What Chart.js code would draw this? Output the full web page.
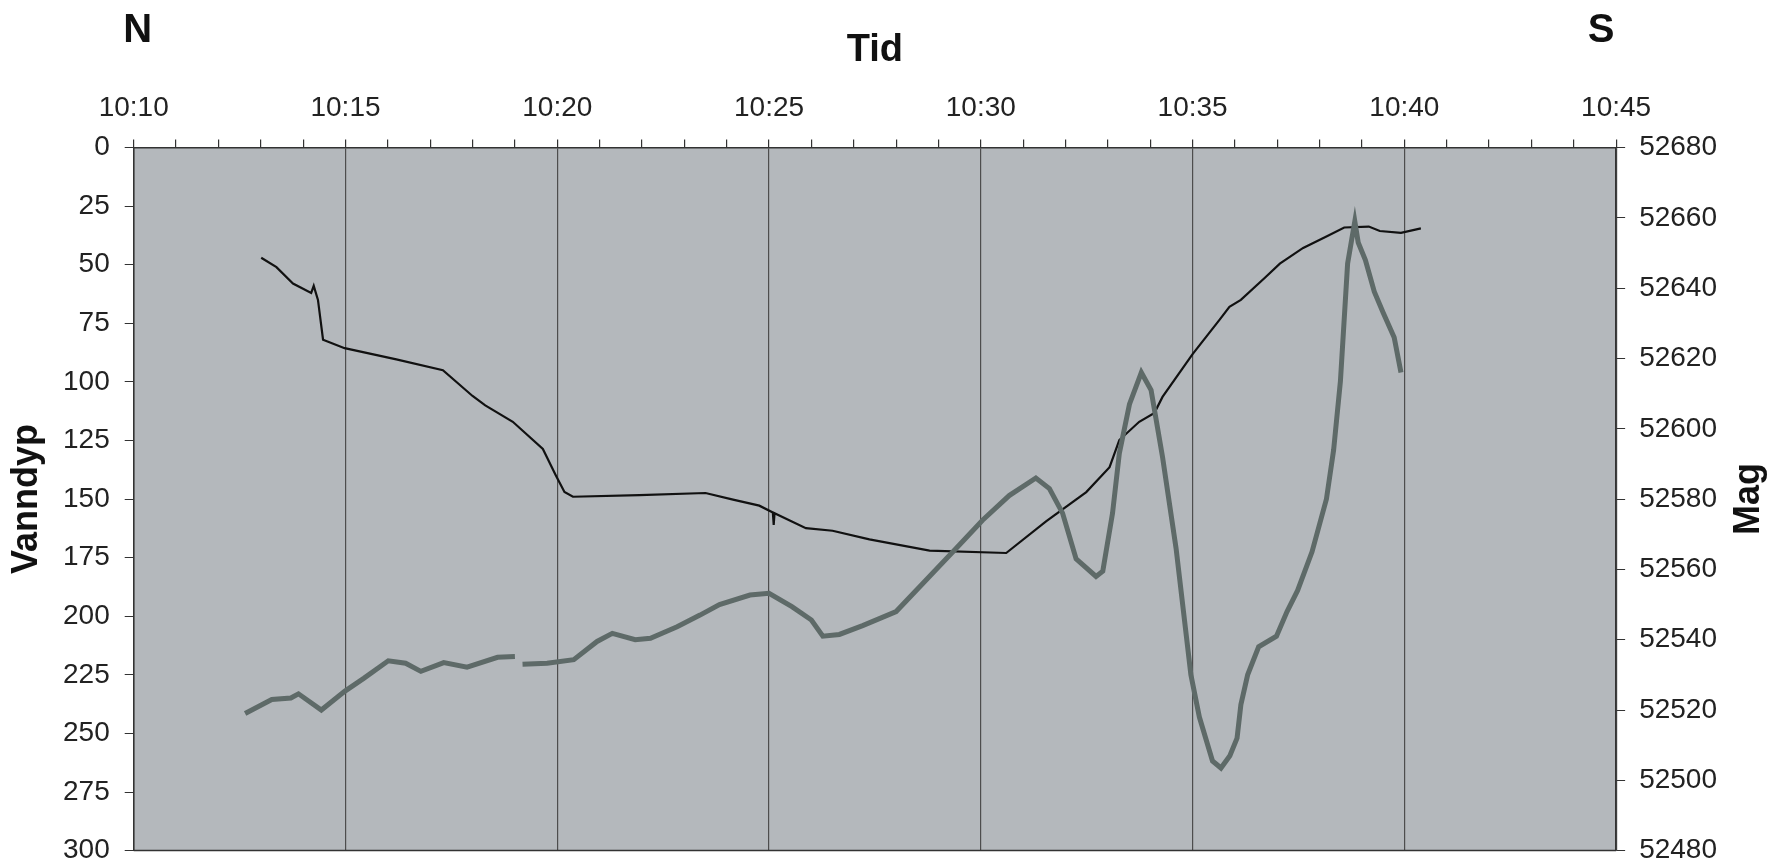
<!DOCTYPE html>
<html>
<head>
<meta charset="utf-8">
<script src="https://cdn.jsdelivr.net/npm/chart.js@4"></script>
<style>
  body { margin: 0; background: #ffffff; }
  #chart { display: block; }
</style>
</head>
<body>
<canvas id="chart" width="1779" height="867"></canvas>
<script>
// VARIABLE DECLARATIONS:
// time is given as minutes past 10:00
var timeTicks = ['10:10', '10:15', '10:20', '10:25', '10:30', '10:35', '10:40', '10:45'];

var depthTime = [13.01, 13.37, 13.76, 14.19, 14.25, 14.35, 14.47, 14.98, 16.2, 17.3,
    18.0, 18.3, 18.95, 19.66, 19.97, 20.17, 20.37, 21.94, 23.5, 24.15,
    24.77, 25.09, 25.11, 25.13, 25.87, 26.5, 27.37, 28.79, 30.6, 31.54,
    32.49, 33.04, 33.27, 33.74, 34.1, 34.29, 35.0, 35.63, 35.87, 36.14,
    36.72, 37.06, 37.61, 38.16, 38.58, 39.16, 39.42, 39.92, 40.39];
var depthValue = [47, 51, 58, 62, 59, 65, 82, 85.6, 90.4, 95,
    106, 110, 117, 128.6, 140, 147, 149, 148.3, 147.4, 150.2,
    152.8, 155.7, 161, 156, 162.4, 163.5, 167.2, 172, 173, 159.5,
    147, 136.4, 124.8, 117, 113.2, 106.4, 88.1, 73.6, 67.9, 65,
    55.3, 49.5, 42.8, 37.9, 34.1, 33.7, 35.6, 36.4, 34.5];

var magTime = [12.63, 13.26, 13.71, 13.89, 14.43, 14.98, 15.43, 16.01, 16.42, 16.78,
    17.32, 17.87, 18.59, 19.0, 19.09, 19.18, 19.76, 20.39, 20.94, 21.3,
    21.84, 22.2, 22.83, 23.37, 23.83, 24.55, 25.0, 25.54, 26.0, 26.27,
    26.66, 27.21, 28.0, 28.63, 29.42, 30.04, 30.67, 31.3, 31.62, 31.93,
    32.25, 32.72, 32.88, 33.11, 33.27, 33.51, 33.79, 34.02, 34.29, 34.61,
    34.96, 35.16, 35.47, 35.67, 35.88, 36.05, 36.14, 36.3, 36.56, 36.98,
    37.23, 37.48, 37.82, 38.16, 38.33, 38.49, 38.66, 38.83, 38.91, 39.08,
    39.29, 39.5, 39.76, 39.92];
var magValue = [52519, 52523, 52523.4, 52524.6, 52520, 52525.3, 52529, 52534, 52533.3, 52531,
    52533.5, 52532.2, 52535, 52535.2, null, 52533, 52533.3, 52534.3, 52539.5, 52541.8,
    52540, 52540.4, 52543.7, 52547, 52550, 52552.7, 52553.2, 52549.4, 52545.6, 52541,
    52541.5, 52544, 52548, 52556, 52566, 52574, 52581, 52586, 52583, 52576,
    52563, 52558, 52559.5, 52576, 52593, 52607, 52616, 52611, 52592, 52566,
    52530, 52518, 52505.5, 52503.5, 52507, 52512, 52521.5, 52530, 52538, 52541,
    52548, 52554, 52565, 52580, 52594, 52613.5, 52647, 52659, 52653, 52648,
    52639, 52633, 52626, 52616];

var fontFamily = '"Liberation Sans", Arial, Helvetica, sans-serif';
var myChart;

window.onload = function() {
    createChart();
};

function toPoints(xs, ys){
    return xs.map((x, i) => ({ x: x, y: ys[i] }));
}

// grey plot area, bottom border and the loose labels
var decorPlugin = {
    id: 'decor',
    beforeDraw(chart) {
        var ctx = chart.ctx;
        var a = chart.chartArea;
        ctx.save();
        ctx.fillStyle = '#b4b8bc';
        ctx.fillRect(a.left, a.top, a.right - a.left, a.bottom - a.top);
        ctx.restore();
    },
    afterDraw(chart) {
        var ctx = chart.ctx;
        var a = chart.chartArea;
        ctx.save();
        ctx.strokeStyle = '#333333';
        ctx.lineWidth = 1.5;
        ctx.beginPath();
        ctx.moveTo(a.left, a.bottom);
        ctx.lineTo(a.right, a.bottom);
        ctx.stroke();

        ctx.fillStyle = '#111111';
        ctx.font = 'bold 40px ' + fontFamily;
        ctx.textAlign = 'center';
        ctx.textBaseline = 'alphabetic';
        ctx.fillText('N', a.left + 4, 42);
        ctx.fillText('S', a.right - 15, 42);

        ctx.font = 'bold 36px ' + fontFamily;
        ctx.translate(1749, (a.top + a.bottom) / 2);
        ctx.rotate(-Math.PI / 2);
        ctx.textBaseline = 'middle';
        ctx.fillText('Mag', 0, 0);
        ctx.restore();
    }
};

function createChart(){
    var chart = document.getElementById('chart').getContext('2d');
    myChart = new Chart(chart, {
        type: 'line',
        data: {
            datasets: [{
                label: 'Mag',
                data: toPoints(magTime, magValue),
                yAxisID: 'y2',
                borderColor: '#5e6a68',
                borderWidth: 5,
                pointRadius: 0,
                tension: 0,
                spanGaps: false
            }, {
                label: 'Vanndyp',
                data: toPoints(depthTime, depthValue),
                yAxisID: 'y',
                borderColor: '#111111',
                borderWidth: 2.2,
                pointRadius: 0,
                tension: 0
            }]
        },
        options: {
            responsive: false,
            animation: false,
            devicePixelRatio: 1,
            layout: {
                padding: { left: 0, right: 48, top: 0, bottom: 0 }
            },
            scales: {
                x: {
                    type: 'linear',
                    position: 'top',
                    min: 10,
                    max: 45,
                    ticks: {
                        stepSize: 1,
                        autoSkip: false,
                        maxRotation: 0,
                        minRotation: 0,
                        padding: 15,
                        color: '#222222',
                        font: { family: fontFamily, size: 28 },
                        callback: function(v) {
                            return v % 5 === 0 ? timeTicks[(v - 10) / 5] : '';
                        }
                    },
                    grid: {
                        drawOnChartArea: true,
                        drawTicks: true,
                        tickLength: 8,
                        tickColor: '#333333',
                        color: function(ctx) {
                            return ctx.tick && ctx.tick.value % 5 === 0 ? '#4d4d4d' : 'rgba(0,0,0,0)';
                        },
                        lineWidth: 1.2
                    },
                    border: { display: true, color: '#333333', width: 1.5 },
                    title: {
                        display: true,
                        text: 'Tid',
                        color: '#111111',
                        font: { family: fontFamily, size: 38, weight: 'bold', lineHeight: 1 },
                        padding: { top: 32, bottom: 6 }
                    }
                },
                y: {
                    position: 'left',
                    reverse: true,
                    min: 0,
                    max: 300,
                    ticks: {
                        stepSize: 25,
                        padding: 15,
                        color: '#222222',
                        font: { family: fontFamily, size: 28, lineHeight: 0.1 }
                    },
                    grid: {
                        drawOnChartArea: false,
                        drawTicks: true,
                        tickLength: 9,
                        tickColor: '#333333'
                    },
                    border: { display: true, color: '#333333', width: 1.5 },
                    title: {
                        display: true,
                        text: 'Vanndyp',
                        color: '#111111',
                        font: { family: fontFamily, size: 36, weight: 'bold', lineHeight: 1 },
                        padding: { top: 9, bottom: 3 }
                    }
                },
                y2: {
                    position: 'right',
                    min: 52480,
                    max: 52680,
                    ticks: {
                        stepSize: 20,
                        padding: 14,
                        color: '#222222',
                        font: { family: fontFamily, size: 28, lineHeight: 0.1 },
                        callback: function(v) {
                            return String(v);
                        }
                    },
                    grid: {
                        drawOnChartArea: false,
                        drawTicks: true,
                        tickLength: 9,
                        tickColor: '#333333'
                    },
                    border: { display: true, color: '#333333', width: 1.5 }
                }
            },
            plugins: {
                legend: { display: false },
                tooltip: { enabled: false }
            }
        },
        plugins: [decorPlugin]
    });
}
</script>
</body>
</html>
